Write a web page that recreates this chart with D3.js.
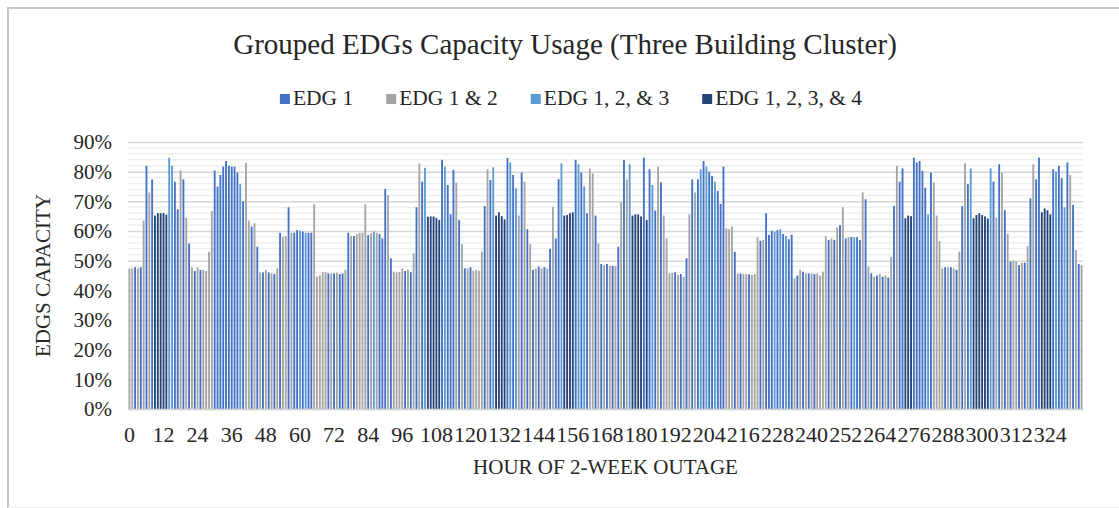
<!DOCTYPE html>
<meta charset="utf-8">
<style type="text/css">
    body{
      margin: 0;
      background: #fff;
    }
    svg{
      display: block;
    }
    text {
      font-family: "Liberation Serif", "Times New Roman", serif;
      fill: #262626;
    }
</style>
<body>
<script src="https://d3js.org/d3.v7.min.js"></script>
<script>

//series names, in legend order
var seriesNames = ["EDG 1", "EDG 1 & 2", "EDG 1, 2, & 3", "EDG 1, 2, 3, & 4"];

//capacity usage (%) for each hour of the outage, 12 hours per row
var capacity = [
  47.4, 47.4, 47.8, 47.4, 47.8, 63.5, 82, 73, 77.4, 65.2, 66, 66,
  66, 65.5, 84.7, 82, 76.6, 67.3, 80.4, 77.4, 64.5, 55.8, 47.8, 46.5,
  47.8, 46.9, 46.9, 46.5, 53, 66.7, 80.4, 75, 78.9, 81.7, 83.6, 82,
  81.7, 81.7, 79.7, 75.8, 70, 83, 63.5, 61.5, 62.6, 54.7, 46, 46,
  46.9, 46, 45.7, 45.5, 47.4, 59.4, 58, 58.3, 68, 59.4, 59.4, 60.3,
  60.1, 59.8, 59.4, 59.4, 59.4, 69, 44.6, 45, 46.1, 46.1, 45.7, 45.7,
  45.7, 46, 45.5, 45.7, 46.9, 59.4, 58.3, 58.3, 59, 59.4, 59.4, 69,
  58.6, 59.2, 59.8, 59.4, 59, 57.5, 74.2, 72.1, 50.8, 46.3, 46, 46.2,
  47.4, 46.5, 46.9, 46.1, 52.5, 68, 82.8, 76.6, 81.3, 64.8, 64.9, 64.9,
  64.4, 63.7, 84, 81.7, 75.5, 65.6, 80.6, 76.3, 63.7, 55.6, 47.4, 47.4,
  47.8, 46.6, 46.9, 46.6, 53, 68.4, 80.8, 77.2, 81.5, 65.2, 66.3, 65,
  63.9, 84.6, 83.1, 78.9, 74.4, 65.2, 79.7, 76.6, 60.6, 55.6, 46.9, 47.4,
  48, 47.4, 47.8, 47.3, 54, 68.2, 57.5, 77.5, 82.8, 65.2, 65.4, 66,
  66.3, 84, 82.5, 79.7, 75, 66, 81, 79.4, 65.2, 55.8, 48.9, 48.5,
  48.9, 48.3, 48.2, 48.2, 54.7, 69.7, 84, 77.4, 82.5, 65.2, 65.6, 65.6,
  64.9, 84.7, 63.7, 80.8, 75.5, 66.9, 81.7, 76.4, 65.2, 57.5, 45.7, 45.9,
  46.1, 45.2, 45.5, 44.6, 50.8, 65.6, 77.4, 73, 77.4, 80.8, 83.6, 81.7,
  80, 78.5, 76.6, 73.5, 69.1, 81.7, 60.9, 60.6, 61.5, 53, 45.7, 45.7,
  45.5, 45.5, 45.4, 45.2, 45.5, 57.9, 56.7, 57, 66, 58.7, 60.1, 59.8,
  60.3, 60.6, 59, 58.3, 57.2, 58.7, 44, 45, 47, 46.3, 45.7, 45.7,
  45.7, 45.5, 45.7, 45, 46.3, 58.3, 57, 57.5, 57, 61.2, 62, 68,
  57.5, 57.9, 58, 57.9, 57.9, 57, 73, 70.7, 48, 45.7, 44.6, 45,
  45.5, 44.6, 45, 44.3, 51.3, 68.4, 82, 76.6, 81.1, 64.3, 65.2, 65,
  84.7, 83.1, 83.6, 80.3, 74.6, 65.6, 79.7, 76.4, 65.2, 56.6, 47.4, 47.8,
  47.8, 47.8, 47.4, 46.9, 53, 68.4, 82.8, 75.8, 81.1, 64.3, 65.4, 66,
  65.4, 64.9, 64.2, 81.1, 76.6, 64.5, 82.5, 79.7, 67, 59, 49.7, 50,
  49.7, 48.5, 49.3, 49.3, 55, 71, 82.5, 77.4, 84.7, 66.3, 67.6, 67,
  65.6, 80.8, 80, 82, 77.8, 68, 83.1, 78.9, 68.8, 53.6, 48.9, 48.5
];

//which EDG group (index into seriesNames) carries the load each hour
var groupIndex = [
  1,1,0,1,0,1,0,1,0,3,3,3,
  3,3,2,2,0,0,1,0,1,0,1,0,
  1,0,1,1,1,1,0,0,0,0,0,0,
  0,0,0,2,0,1,1,0,1,0,1,0,
  1,0,1,0,1,0,1,1,0,1,0,0,
  2,0,2,0,0,1,1,1,1,1,0,1,
  0,1,0,0,1,0,1,0,1,1,1,1,
  0,1,2,1,0,0,0,1,0,1,1,1,
  1,0,1,0,1,0,1,0,2,3,3,3,
  3,3,0,2,0,0,0,1,0,1,0,1,
  0,1,1,1,1,0,1,0,2,3,3,3,
  3,0,2,0,2,1,0,1,0,1,0,1,
  0,1,0,1,0,1,0,0,2,3,3,3,
  3,0,2,0,2,0,1,1,0,1,0,1,
  0,1,0,1,0,1,0,1,2,3,3,3,
  3,0,3,0,2,0,1,0,1,1,1,1,
  0,1,0,1,0,1,0,1,0,2,0,2,
  0,0,2,0,0,0,1,1,1,0,1,0,
  1,1,0,1,1,1,0,1,0,0,0,2,
  0,2,0,2,0,0,1,0,1,0,1,0,
  1,0,1,1,1,1,0,1,0,1,0,1,
  0,1,0,2,0,0,1,0,1,0,1,0,
  1,0,1,0,1,0,1,0,0,3,3,3,
  0,0,0,0,0,2,0,1,1,1,1,0,
  1,0,1,0,1,0,1,0,2,3,3,3,
  3,3,3,2,0,1,0,1,0,1,0,1,
  1,0,1,0,1,0,1,0,0,3,3,3,
  3,0,2,0,0,2,0,1,0,1,0,1
];

//y axis ticks and x label step
var yTicks = [0, 0.1, 0.2, 0.3, 0.4, 0.5, 0.6, 0.7, 0.8, 0.9];
var xLabelStep = 12;

var colorRange = ["#4472C4", "#A5A5A5", "#5B9BD5", "#264478"];

var hours = d3.range(capacity.length);

var data = hours.map(function(h){
  return {hour: h, value: capacity[h] / 100, group: seriesNames[groupIndex[h]]};
});

var width = 1119, height = 508;
var plot = {left: 128, right: 1083, top: 142, bottom: 409};

var svg = d3.select("body")
  .append("svg")
  .attr("width", width)
  .attr("height", height);

//chart frame (only top and left edges show)
svg.append("line").attr("x1", 7).attr("x2", width).attr("y1", 8).attr("y2", 8)
  .attr("stroke", "#c6c6c6").attr("stroke-width", 2);
svg.append("line").attr("x1", 8).attr("x2", 8).attr("y1", 7).attr("y2", height)
  .attr("stroke", "#c6c6c6").attr("stroke-width", 2);
svg.append("line").attr("x1", 8).attr("x2", width).attr("y1", 507.5).attr("y2", 507.5)
  .attr("stroke", "#f0f0f0").attr("stroke-width", 1);

var x = d3.scaleBand()
  .domain(hours)
  .range([plot.left, plot.right])
  .paddingInner(0.35)
  .paddingOuter(0.17);

var y = d3.scaleLinear()
  .domain([0, 0.9])
  .range([plot.bottom, plot.top]);

var color = d3.scaleOrdinal()
  .domain(seriesNames)
  .range(colorRange);

//minor gridlines every 2%
var minor = d3.range(0, 91, 2).map(function(d){ return d / 100; })
  .filter(function(d){ return Math.round(d * 100) % 10 != 0; });

svg.append("g")
  .selectAll("line")
  .data(minor)
  .enter().append("line")
  .attr("x1", plot.left).attr("x2", plot.right)
  .attr("y1", function(d){ return y(d); })
  .attr("y2", function(d){ return y(d); })
  .attr("stroke", "#efefef")
  .attr("stroke-width", 1.5);

//major gridlines with the y axis
var yAxis = svg.append("g")
  .attr("transform", "translate(" + plot.left + ",0)")
  .call(d3.axisLeft(y)
    .tickValues(yTicks)
    .tickFormat(d3.format(".0%"))
    .tickSize(-(plot.right - plot.left))
    .tickPadding(16));

yAxis.select(".domain").remove();
yAxis.selectAll(".tick line")
  .attr("stroke", "#d6d6d6")
  .attr("stroke-width", 1.5);
yAxis.selectAll(".tick text")
  .style("font-size", "21px")
  .attr("fill", "#262626");

//bars
svg.append("g")
  .selectAll("rect")
  .data(data)
  .enter().append("rect")
  .attr("x", function(d){ return x(d.hour); })
  .attr("width", x.bandwidth())
  .attr("y", function(d){ return y(d.value); })
  .attr("height", function(d){ return y(0) - y(d.value); })
  .attr("fill", function(d){ return color(d.group); });

//x axis
var xAxis = svg.append("g")
  .attr("transform", "translate(0," + plot.bottom + ")")
  .call(d3.axisBottom(x)
    .tickValues(hours.filter(function(h){ return h % xLabelStep == 0; }))
    .tickSize(0)
    .tickPadding(17));

xAxis.select(".domain")
  .attr("stroke", "#d6d6d6")
  .attr("stroke-width", 1.5);
xAxis.selectAll(".tick text")
  .style("font-size", "22px")
  .attr("fill", "#262626");

//title
svg.append("text")
  .attr("x", 565)
  .attr("y", 54)
  .attr("text-anchor", "middle")
  .style("font-size", "29px")
  .text("Grouped EDGs Capacity Usage (Three Building Cluster)");

//axis titles
svg.append("text")
  .attr("x", (plot.left + plot.right) / 2)
  .attr("y", 474)
  .attr("text-anchor", "middle")
  .style("font-size", "21px")
  .text("HOUR OF 2-WEEK OUTAGE");

svg.append("text")
  .attr("transform", "translate(50," + (plot.top + plot.bottom) / 2 + ") rotate(-90)")
  .attr("text-anchor", "middle")
  .style("font-size", "21px")
  .text("EDGS CAPACITY");

//legend, laid out left to right and centred
var legend = svg.append("g");
var cursor = 0;
seriesNames.forEach(function(name, i){
  var item = legend.append("g").attr("transform", "translate(" + cursor + ",0)");
  item.append("rect")
    .attr("x", 0).attr("y", -11)
    .attr("width", 10).attr("height", 10)
    .attr("fill", color(name));
  var t = item.append("text")
    .attr("x", 13).attr("y", 0)
    .style("font-size", "21.5px")
    .text(name);
  cursor += 13 + t.node().getComputedTextLength() + 33;
});
cursor -= 33;
legend.attr("transform", "translate(" + (571 - cursor / 2) + ",105)");

</script>
</body>
